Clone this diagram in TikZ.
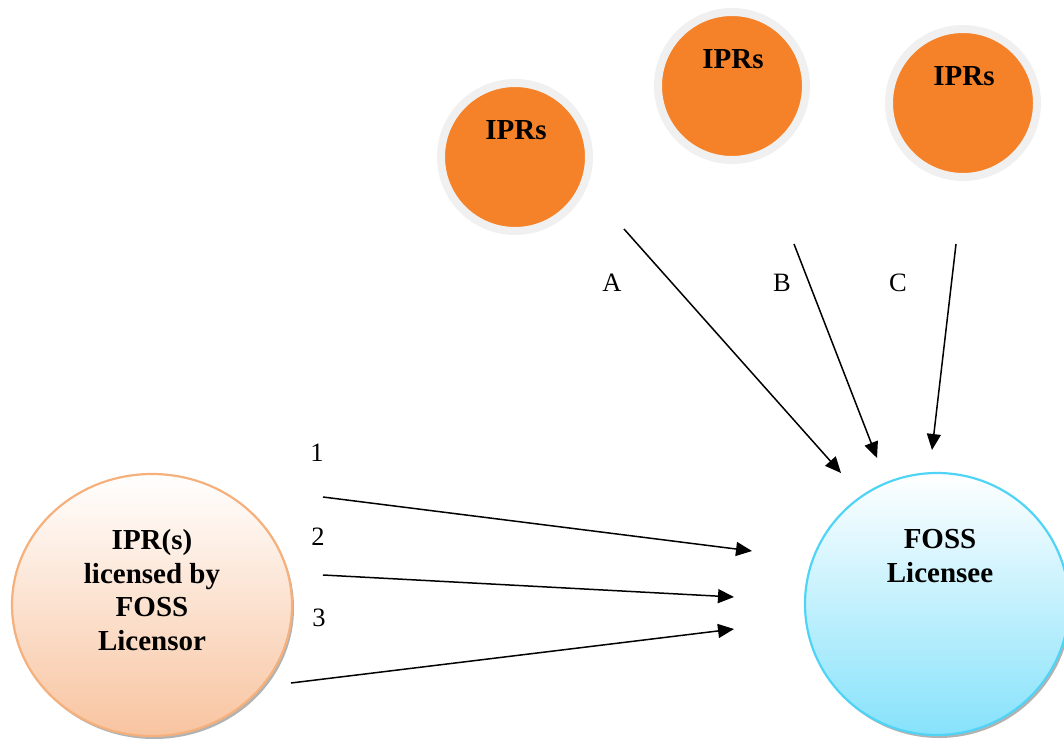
\documentclass[tikz,border=0pt]{standalone}
\usepackage{fontspec}
\setmainfont{Liberation Serif}
\usepackage{tikz}
\usetikzlibrary{shapes.geometric,arrows.meta,shadows}
\definecolor{iprorange}{RGB}{245,130,40}
\definecolor{ringgray}{RGB}{240,240,240}
\definecolor{peach}{RGB}{248,196,160}
\definecolor{peachline}{RGB}{245,176,124}
\definecolor{sky}{RGB}{134,226,251}
\definecolor{skyline}{RGB}{80,212,246}

\tikzset{
    ipr/.style={circle, fill=iprorange, draw=ringgray, line width=8pt, minimum size=148pt, inner sep=0pt},
    bold/.style={font=\bfseries\fontsize{29}{33.5}\selectfont, align=center, inner sep=0pt},
    tag/.style={font=\fontsize{26.5}{30}\selectfont, inner sep=0pt},
    flow/.style={-{Triangle[length=16pt,width=14pt]}, line width=1.5pt},
    bigshadow/.style={drop shadow={shadow xshift=2pt, shadow yshift=-3pt, opacity=0.3, fill=black}}
}

\begin{document}
\begin{tikzpicture}[x=1pt, y=-1pt]
    \useasboundingbox (0,0) rectangle (1064,738);

    % IPRs from other sources
    \path (515,157) node[ipr] (ipr-a) {};
    \path (732,86) node[ipr] (ipr-b) {};
    \path (963,103) node[ipr] (ipr-c) {};
    \path (516,130) node[bold] (ipr-a-txt) {IPRs};
    \path (733,59) node[bold] (ipr-b-txt) {IPRs};
    \path (964,76) node[bold] (ipr-c-txt) {IPRs};

    % licensor and licensee
    \path (152,605) node[ellipse, minimum width=280pt, minimum height=262pt, top color=white, bottom color=peach, draw=peachline, line width=2.2pt, bigshadow] (licensor) {};
    \path (937,604) node[ellipse, minimum width=264pt, minimum height=262pt, top color=white, bottom color=sky, draw=skyline, line width=2.2pt, bigshadow] (licensee) {};
    \path (152,590) node[bold] (licensor-txt) {IPR(s)\\licensed by\\FOSS\\Licensor};
    \path (940,556) node[bold] (licensee-txt) {FOSS\\Licensee};

    % free ends of the arrows
    \coordinate (a-from) at (624,229);
    \coordinate (a-to) at (841,473);
    \coordinate (b-from) at (794,244);
    \coordinate (b-to) at (877,458);
    \coordinate (c-from) at (956,244);
    \coordinate (c-to) at (932,450);
    \coordinate (one-from) at (323,497);
    \coordinate (one-to) at (752,551);
    \coordinate (two-from) at (323,575);
    \coordinate (two-to) at (734,597);
    \coordinate (three-from) at (291,683);
    \coordinate (three-to) at (734,629);

    \draw[flow] (a-from) -- (a-to);
    \draw[flow] (b-from) -- (b-to);
    \draw[flow] (c-from) -- (c-to);
    \draw[flow] (one-from) -- (one-to);
    \draw[flow] (two-from) -- (two-to);
    \draw[flow] (three-from) -- (three-to);

    \path (612,283) node[tag] (lbl-a) {A};
    \path (782,283) node[tag] (lbl-b) {B};
    \path (898,283) node[tag] (lbl-c) {C};
    \path (317,453) node[tag] (lbl-one) {1};
    \path (318,537) node[tag] (lbl-two) {2};
    \path (319,618) node[tag] (lbl-three) {3};
\end{tikzpicture}
\end{document}
